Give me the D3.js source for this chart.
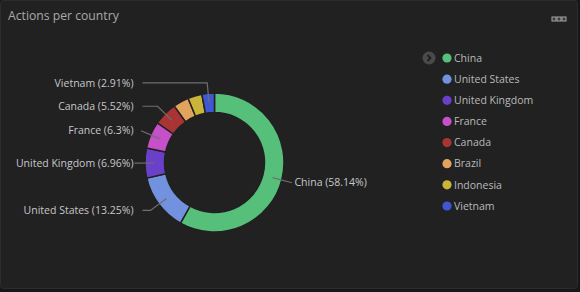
<!DOCTYPE html>
<html>
<head>
<meta charset="utf-8">
<script src="https://cdn.jsdelivr.net/npm/d3@7"></script>
<style>
  html, body { margin: 0; padding: 0; background: #161719; }
  svg { display: block; font-family: "Open Sans", sans-serif; }
</style>
</head>
<body>
<svg id="chart" width="580" height="292"></svg>
<script>
// data
const countries = ['China', 'United States', 'United Kingdom', 'France', 'Canada', 'Brazil', 'Indonesia', 'Vietnam'];
const percents = [58.14, 13.25, 6.96, 6.3, 5.52, 3.63, 3.29, 2.91];
const colors = ['#56c07b', '#7292e0', '#6b40c8', '#c650c8', '#a83434', '#e2a45c', '#c9b53a', '#3f57d2'];
// labels that survive the overlap check in the original
const labelled = ['China', 'United States', 'United Kingdom', 'France', 'Canada', 'Vietnam'];

const data = countries.map((c, i) => ({ name: c, value: percents[i], color: colors[i] }));

const svg = d3.select('#chart');
const W = 580, H = 292;

// panel
svg.append('rect')
  .attr('x', 0.5).attr('y', 0.5)
  .attr('width', W - 3).attr('height', H - 4)
  .attr('rx', 3)
  .attr('fill', '#212122')
  .attr('stroke', '#2c2c2e');

svg.append('text')
  .attr('x', 8).attr('y', 20)
  .attr('fill', '#a9a9ab')
  .attr('font-size', 12.2)
  .text('Actions per country');

// menu dots
const dots = svg.append('g').attr('transform', 'translate(552,17)');
[0, 5, 10].forEach(dx => {
  dots.append('rect').attr('x', dx).attr('y', 0).attr('width', 4).attr('height', 4)
    .attr('fill', '#3a3a3a').attr('stroke', '#a8a8a8').attr('stroke-width', 1);
});

// donut
const cx = 214.5, cy = 162.5;
const outerR = 69.5, innerR = 50;
const g = svg.append('g').attr('transform', `translate(${cx},${cy})`);

const pie = d3.pie().value(d => d.value).sort(null);
const arc = d3.arc().innerRadius(innerR).outerRadius(outerR);
const midArc = d3.arc().innerRadius(60).outerRadius(60);
const outArc = d3.arc().innerRadius(80).outerRadius(80);

const arcs = pie(data);

g.selectAll('path.slice')
  .data(arcs)
  .enter()
  .append('path')
  .attr('class', 'slice')
  .attr('d', arc)
  .attr('fill', d => d.data.color)
  .attr('stroke', '#212122')
  .attr('stroke-width', 1.5);

const labelArcs = arcs.filter(d => labelled.includes(d.data.name));

g.selectAll('polyline')
  .data(labelArcs)
  .enter()
  .append('polyline')
  .attr('fill', 'none')
  .attr('stroke', '#6f6f72')
  .attr('stroke-width', 1.2)
  .attr('points', d => {
    const a = midArc.centroid(d);
    const b = outArc.centroid(d);
    const side = b[0] < 0 ? -1 : 1;
    const ex = side * Math.max(Math.abs(b[0]), 72);
    return [a, b, [ex, b[1]]].map(p => p.join(',')).join(' ');
  });

g.selectAll('text.lbl')
  .data(labelArcs)
  .enter()
  .append('text')
  .attr('class', 'lbl')
  .attr('x', d => outArc.centroid(d)[0] < 0 ? -81 : 80)
  .attr('y', d => outArc.centroid(d)[1])
  .attr('dy', '0.35em')
  .attr('text-anchor', d => outArc.centroid(d)[0] < 0 ? 'end' : 'start')
  .attr('fill', '#c7c7c9')
  .attr('font-size', 10.5)
  .text(d => `${d.data.name} (${d.data.value}%)`);

// legend
const legend = svg.append('g').attr('transform', 'translate(447,58)');
const ly = d3.scalePoint().domain(countries).range([0, 148]);

legend.append('circle').attr('cx', -18).attr('cy', 0).attr('r', 6.5).attr('fill', '#4a4a4c');
legend.append('path').attr('d', 'M-19.5,-3 L-16.5,0 L-19.5,3')
  .attr('fill', 'none').attr('stroke', '#202020').attr('stroke-width', 1.8);

const items = legend.selectAll('g.item')
  .data(data)
  .enter()
  .append('g')
  .attr('class', 'item')
  .attr('transform', d => `translate(0,${ly(d.name)})`);

items.append('circle').attr('r', 4.6).attr('fill', d => d.color);
items.append('text')
  .attr('x', 7).attr('dy', '0.35em')
  .attr('fill', '#b9b9bb')
  .attr('font-size', 10.5)
  .text(d => d.name);
</script>
</body>
</html>
